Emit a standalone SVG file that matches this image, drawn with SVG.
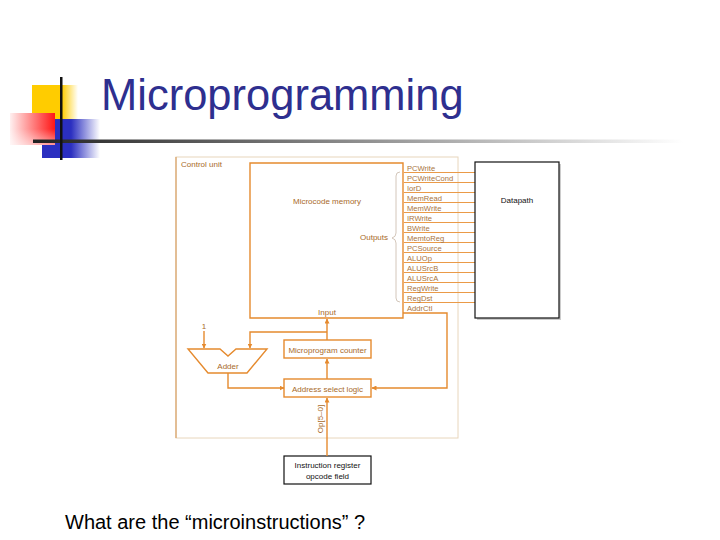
<svg xmlns="http://www.w3.org/2000/svg" width="720" height="540" viewBox="0 0 720 540">
<style>
.lbl{font-family:"Liberation Sans",Arial,sans-serif;font-size:8px;fill:#A86A2A}
.sig{font-family:"Liberation Sans",Arial,sans-serif;font-size:7.6px;fill:#A87440}
.blk{font-family:"Liberation Sans",Arial,sans-serif;font-size:8px;fill:#111}
.ob{fill:#fff;stroke:#E58A2E;stroke-width:1.4}
.ln{fill:none;stroke:#E58A2E;stroke-width:1.4}
.sl{stroke:#EA9A48;stroke-width:1}
</style>
<defs>
<marker id="ah" viewBox="0 0 10 10" refX="9" refY="5" markerWidth="5" markerHeight="5" orient="auto" markerUnits="userSpaceOnUse"><path d="M0,0 L10,5 L0,10 Z" fill="#E58A2E"/></marker>
<linearGradient id="hr" x1="0" x2="1" y1="0" y2="0"><stop offset="0" stop-color="#222"/><stop offset="0.55" stop-color="#999"/><stop offset="1" stop-color="#fff"/></linearGradient>
<linearGradient id="yel" x1="0" x2="1"><stop offset="0.65" stop-color="#FFCC00"/><stop offset="1" stop-color="#FFCC00" stop-opacity="0"/></linearGradient>
<linearGradient id="blu" x1="0" x2="1"><stop offset="0.5" stop-color="#2B2FC0"/><stop offset="1" stop-color="#2B2FC0" stop-opacity="0"/></linearGradient>
<linearGradient id="red" x1="0" x2="1" y1="0" y2="0"><stop offset="0" stop-color="#FFF0F0"/><stop offset="1" stop-color="#FF1515"/></linearGradient>
<linearGradient id="redfade" x1="0" x2="0" y1="0" y2="1"><stop offset="0.5" stop-color="#fff" stop-opacity="0"/><stop offset="1" stop-color="#fff" stop-opacity="0.55"/></linearGradient>
</defs>
<rect width="720" height="540" fill="#fff"/>
<g id="decor">
<rect x="32" y="85" width="46" height="35" fill="url(#yel)"/>
<rect x="42" y="119" width="58" height="39" fill="url(#blu)"/>
<rect x="10" y="113" width="45" height="32" fill="url(#red)"/>
<rect x="10" y="113" width="45" height="32" fill="url(#redfade)"/>
<rect x="33" y="139.5" width="650" height="3.5" fill="url(#hr)"/>
<rect x="60" y="77" width="2.5" height="83" fill="#111"/>
</g>
<text x="101" y="110" font-family="'Liberation Sans',Arial,sans-serif" font-size="43.5" fill="#2E2F8F">Microprogramming</text>
<g id="control_unit">
<rect x="176" y="157" width="282" height="281" fill="none" stroke="#E8D6BC" stroke-width="1"/>
<line x1="176" y1="157" x2="176" y2="438" stroke="#D9A066" stroke-width="1.2"/>
<text class="lbl" x="181" y="167">Control unit</text>
</g>
<g id="microcode_memory">
<path class="ln" d="M403,313 L403,163 L250,163 L250,318 L403,318 L403,313"/>
<text class="lbl" x="327" y="204" text-anchor="middle">Microcode memory</text>
<text class="lbl" x="327" y="315" text-anchor="middle">Input</text>
<text class="lbl" x="388" y="240" text-anchor="end">Outputs</text>
<path d="M400,172 Q396,172 396,176 L396,233 Q396,237 392,238 Q396,239 396,243 L396,298 Q396,302 400,302" fill="none" stroke="#C8B8A8" stroke-width="0.8"/>
</g>
<g id="signals">
<line class="sl" x1="404" y1="172.5" x2="475" y2="172.5"/>
<line class="sl" x1="404" y1="182.5" x2="475" y2="182.5"/>
<line class="sl" x1="404" y1="192.5" x2="475" y2="192.5"/>
<line class="sl" x1="404" y1="202.5" x2="475" y2="202.5"/>
<line class="sl" x1="404" y1="212.5" x2="475" y2="212.5"/>
<line class="sl" x1="404" y1="222.5" x2="475" y2="222.5"/>
<line class="sl" x1="404" y1="232.5" x2="475" y2="232.5"/>
<line class="sl" x1="404" y1="242.5" x2="475" y2="242.5"/>
<line class="sl" x1="404" y1="252.5" x2="475" y2="252.5" stroke-width="2"/>
<line class="sl" x1="404" y1="262.5" x2="475" y2="262.5" stroke-width="2"/>
<line class="sl" x1="404" y1="272.5" x2="475" y2="272.5"/>
<line class="sl" x1="404" y1="282.5" x2="475" y2="282.5"/>
<line class="sl" x1="404" y1="292.5" x2="475" y2="292.5"/>
<line class="sl" x1="404" y1="302.5" x2="475" y2="302.5"/>
<text class="sig" x="407" y="170.5">PCWrite</text>
<text class="sig" x="407" y="180.5">PCWriteCond</text>
<text class="sig" x="407" y="190.5">IorD</text>
<text class="sig" x="407" y="200.5">MemRead</text>
<text class="sig" x="407" y="210.5">MemWrite</text>
<text class="sig" x="407" y="220.5">IRWrite</text>
<text class="sig" x="407" y="230.5">BWrite</text>
<text class="sig" x="407" y="240.5">MemtoReg</text>
<text class="sig" x="407" y="250.5">PCSource</text>
<text class="sig" x="407" y="260.5">ALUOp</text>
<text class="sig" x="407" y="270.5">ALUSrcB</text>
<text class="sig" x="407" y="280.5">ALUSrcA</text>
<text class="sig" x="407" y="290.5">RegWrite</text>
<text class="sig" x="407" y="300.5">RegDst</text>
<text class="sig" x="407" y="310.5">AddrCtl</text>
</g>
<g id="datapath">
<rect x="477" y="164" width="84" height="156" fill="#ccc"/>
<rect x="475" y="162" width="84" height="156" fill="#fff" stroke="#111" stroke-width="1.2"/>
<text class="blk" x="517" y="203" text-anchor="middle">Datapath</text>
</g>
<g id="adder">
<path class="ob" d="M188,349 L220,349 L228,356 L236,349 L267,349 L247,373 L208,373 Z"/>
<text class="lbl" x="228" y="369" text-anchor="middle">Adder</text>
<text class="lbl" x="204" y="329" text-anchor="middle">1</text>
</g>
<g id="microprogram_counter">
<rect class="ob" x="284" y="340" width="87" height="18"/>
<text class="lbl" x="327.5" y="352.5" text-anchor="middle">Microprogram counter</text>
</g>
<g id="address_select_logic">
<rect class="ob" x="284" y="379" width="87" height="18"/>
<text class="lbl" x="327.5" y="391.5" text-anchor="middle">Address select logic</text>
</g>
<g id="instruction_register">
<rect x="284" y="456" width="87" height="28" fill="#fff" stroke="#111" stroke-width="1.2"/>
<text class="blk" x="327.5" y="468" text-anchor="middle">Instruction register</text>
<text class="blk" x="327.5" y="479" text-anchor="middle">opcode field</text>
</g>
<g id="connectors">
<line class="ln" x1="327" y1="340" x2="327" y2="319" marker-end="url(#ah)"/>
<polyline class="ln" points="327,332 250,332 250,348" marker-end="url(#ah)"/>
<line class="ln" x1="204" y1="331" x2="204" y2="348" marker-end="url(#ah)"/>
<polyline class="ln" points="228,373 228,388 284,388" marker-end="url(#ah)"/>
<polyline class="ln" points="403,313 447,313 447,388 372,388" marker-end="url(#ah)"/>
<line class="ln" x1="327" y1="379" x2="327" y2="359" marker-end="url(#ah)"/>
<line class="ln" x1="327" y1="456" x2="327" y2="398" marker-end="url(#ah)"/>
<text class="lbl" x="0" y="0" text-anchor="middle" transform="translate(323,419) rotate(-90)">Op[5–0]</text>
</g>
<text x="65" y="529" font-family="'Liberation Sans',Arial,sans-serif" font-size="20" fill="#000">What are the “microinstructions” ?</text>
</svg>
